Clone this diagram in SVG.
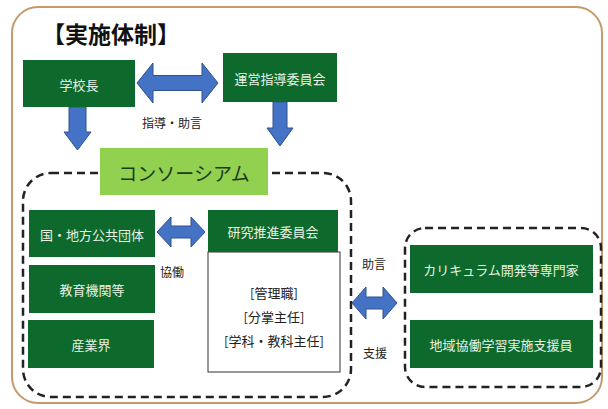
<svg xmlns="http://www.w3.org/2000/svg" width="608" height="409" viewBox="0 0 608 409">
<style>
text{font-family:"Noto Sans CJK JP","Noto Sans",sans-serif;text-anchor:middle;dominant-baseline:central}
.g{fill:#0e6a2c}
.gt{fill:#e8f2e4;font-size:13px}
.arr{fill:#4472c4;stroke:#2f528f;stroke-width:1}
.dash{fill:none;stroke:#222;stroke-width:2.5;stroke-dasharray:8 5}
.lbl{fill:#222;font-size:12px}
</style>
<rect width="608" height="409" fill="#fff"/>
<rect x="12" y="7" width="590" height="396" rx="26" fill="#fff" stroke="#c49a6c" stroke-width="2"/>
<text x="111" y="33" style="font-size:23px;font-weight:bold;fill:#111">【実施体制】</text>
<g id="containers">
<rect class="dash" x="23" y="173" width="328" height="224" rx="28"/>
<rect class="dash" x="405" y="228" width="196" height="159" rx="20"/>
</g>
<g id="connectors">
<path class="arr" d="M137,83 L153,63 L153,75.5 L202,75.5 L202,63 L218,83 L202,103 L202,90.5 L153,90.5 L153,103 Z"/>
<path class="arr" d="M69,107 L86,107 L86,132 L91,132 L77.5,150 L64,132 L69,132 Z"/>
<path class="arr" d="M273,102 L287,102 L287,128 L293,128 L280,146 L267,128 L273,128 Z"/>
<path class="arr" d="M157,232 L171,217 L171,226 L191,226 L191,217 L205,232 L191,247 L191,238 L171,238 L171,247 Z"/>
<path class="arr" d="M352,303 L366,287 L366,297 L383,297 L383,287 L397,303 L383,319 L383,309 L366,309 L366,319 Z"/>
<text class="lbl" x="172" y="122">指導・助言</text>
<text class="lbl" x="172" y="271">協働</text>
<text class="lbl" x="374" y="263">助言</text>
<text class="lbl" x="375" y="352">支援</text>
</g>
<g id="n-kochou"><rect class="g" x="23" y="60" width="112" height="47"/><text class="gt" x="79" y="84">学校長</text></g>
<g id="n-unei"><rect class="g" x="223" y="53" width="114" height="49"/><text class="gt" x="280" y="78">運営指導委員会</text></g>
<g id="n-consortium"><rect x="100" y="148" width="168" height="47" fill="#92d050"/><text x="184" y="172" style="font-size:19px;fill:#1c3a1c">コンソーシアム</text></g>
<g id="n-kuni"><rect class="g" x="29" y="210" width="126" height="47"/><text class="gt" x="92" y="234">国・地方公共団体</text></g>
<g id="n-kyouiku"><rect class="g" x="29" y="265" width="126" height="48"/><text class="gt" x="92" y="289">教育機関等</text></g>
<g id="n-sangyou"><rect class="g" x="28" y="320" width="126" height="48"/><text class="gt" x="91" y="344">産業界</text></g>
<g id="n-kenkyu">
<rect x="208" y="252" width="132" height="120" fill="#fff" stroke="#333" stroke-width="1"/>
<rect class="g" x="208" y="210" width="130" height="42"/>
<text class="gt" x="273" y="231">研究推進委員会</text>
<text x="274" y="292" style="font-size:13px;fill:#222">[管理職]</text>
<text x="274" y="316" style="font-size:13px;fill:#222">[分掌主任]</text>
<text x="274" y="340" style="font-size:13px;fill:#222">[学科・教科主任]</text>
</g>
<g id="n-curriculum"><rect class="g" x="410" y="245" width="183" height="48"/><text class="gt" x="501" y="269">カリキュラム開発等専門家</text></g>
<g id="n-chiiki"><rect class="g" x="410" y="320" width="183" height="48"/><text class="gt" x="501" y="344">地域協働学習実施支援員</text></g>
</svg>
